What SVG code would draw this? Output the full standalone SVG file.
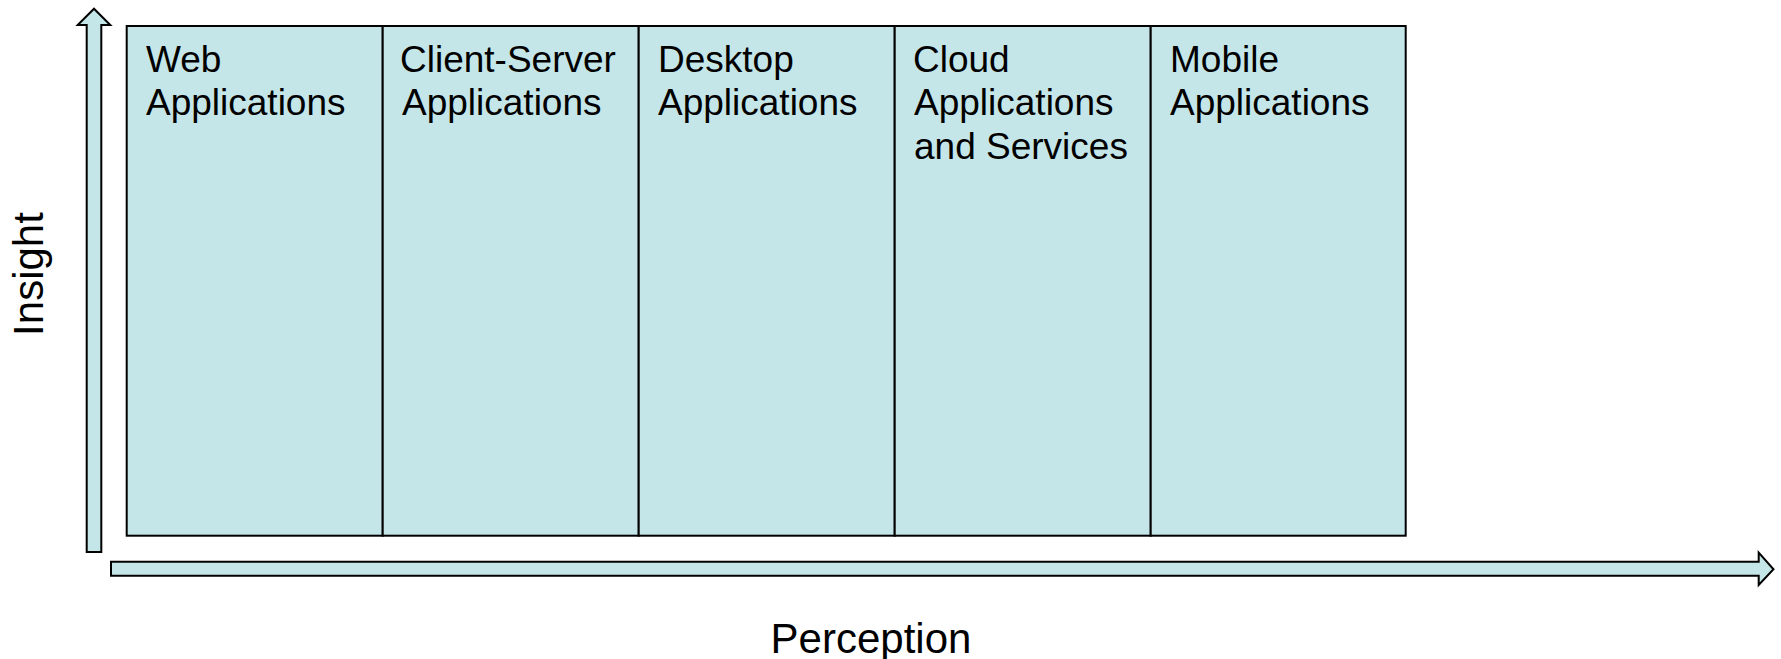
<svg xmlns="http://www.w3.org/2000/svg" width="1781" height="659" viewBox="0 0 1781 659">
  <style>
    .cell { fill: #c5e6e8; stroke: #000; stroke-width: 2; }
    .axis { fill: #c5e6e8; stroke: #000; stroke-width: 2; stroke-linejoin: miter; }
    .lbl { font-family: "Liberation Sans", Arial, sans-serif; font-size: 37px; fill: #000; }
    .axlbl { font-family: "Liberation Sans", Arial, sans-serif; font-size: 42px; fill: #000; text-anchor: middle; }
  </style>
  <rect width="1781" height="659" fill="#fff"/>
  <g id="connectors">
    <path class="axis" d="M86.7 552 L86.7 25 L77.7 25 L94 8.7 L110.3 25 L101.3 25 L101.3 552 Z"/>
    <path class="axis" d="M111 561.7 L1758.7 561.7 L1758.7 552.7 L1773.5 569.3 L1758.7 585 L1758.7 575.7 L111 575.7 Z"/>
  </g>
  <g id="web">
    <rect class="cell" x="126.7" y="26" width="256" height="509.7"/>
    <text class="lbl" x="146" y="71.5">Web</text>
    <text class="lbl" x="146" y="115">Applications</text>
  </g>
  <g id="client-server">
    <rect class="cell" x="382.7" y="26" width="256" height="509.7"/>
    <text class="lbl" x="400" y="71.5">Client-Server</text>
    <text class="lbl" x="402" y="115">Applications</text>
  </g>
  <g id="desktop">
    <rect class="cell" x="638.7" y="26" width="256" height="509.7"/>
    <text class="lbl" x="658" y="71.5">Desktop</text>
    <text class="lbl" x="658" y="115">Applications</text>
  </g>
  <g id="cloud">
    <rect class="cell" x="894.7" y="26" width="256" height="509.7"/>
    <text class="lbl" x="913" y="71.5">Cloud</text>
    <text class="lbl" x="914" y="115">Applications</text>
    <text class="lbl" x="914" y="158.5">and Services</text>
  </g>
  <g id="mobile">
    <rect class="cell" x="1150.7" y="26" width="255" height="509.7"/>
    <text class="lbl" x="1170" y="71.5">Mobile</text>
    <text class="lbl" x="1170" y="115">Applications</text>
  </g>
  <g id="labels">
    <text class="axlbl" x="871" y="653">Perception</text>
    <text class="axlbl" transform="translate(43 274) rotate(-90)">Insight</text>
  </g>
</svg>
